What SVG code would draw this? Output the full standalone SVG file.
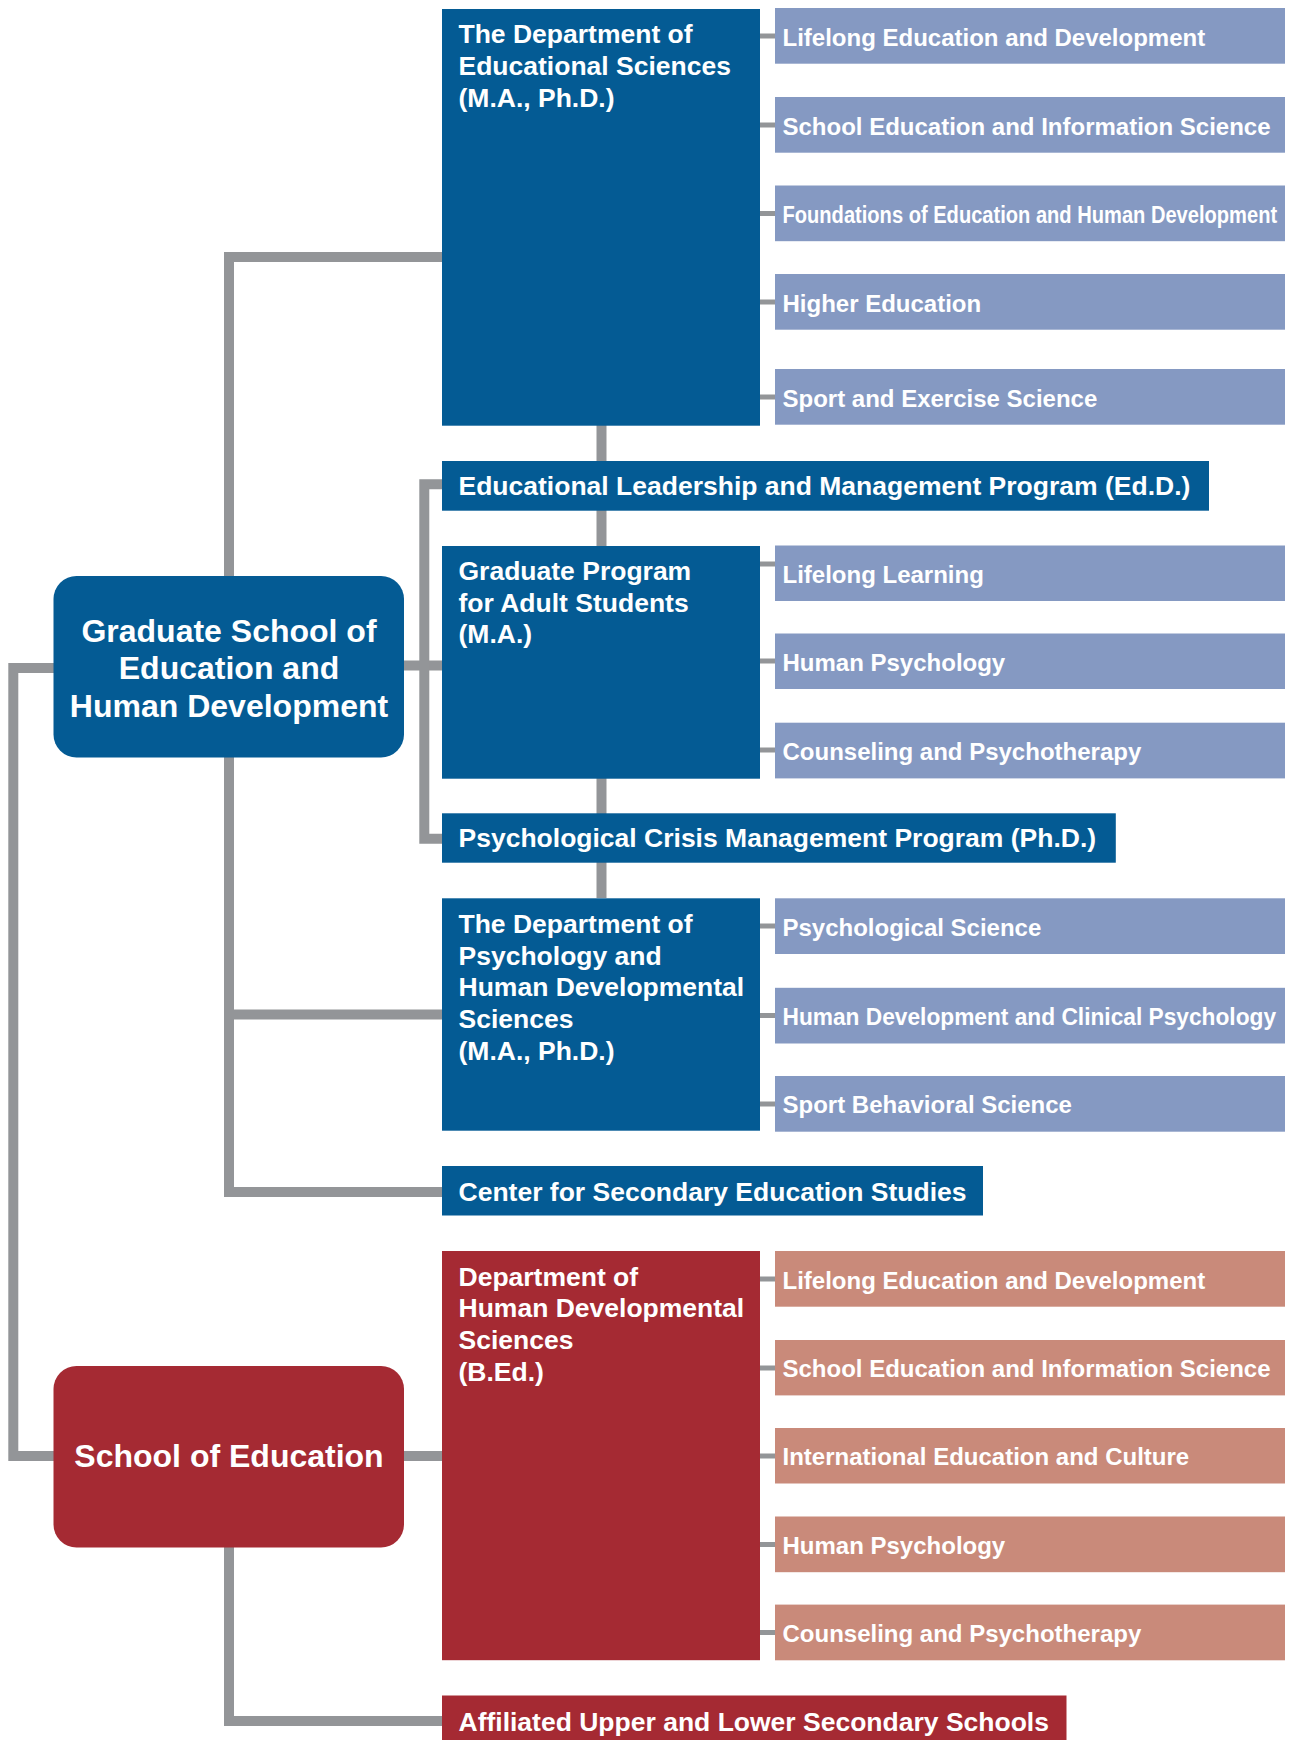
<svg xmlns="http://www.w3.org/2000/svg" width="1289" height="1740" viewBox="0 0 1289 1740">
<style>
text{font-family:"Liberation Sans",Arial,Helvetica,sans-serif;font-weight:bold;fill:#ffffff}
.blue{fill:#045B94}
.red{fill:#A52A33}
.lb{fill:#8599C2}
.sal{fill:#C98A7A}
.conn{fill:none;stroke:#939598;stroke-width:10}
.tick{fill:none;stroke:#939598;stroke-width:5}
.sub{font-size:24px}
.dept{font-size:26.5px}
.top{font-size:32px;text-anchor:middle}
</style>
<rect width="1289" height="1740" fill="#ffffff"/>
<g id="connectors">
<path class="conn" d="M54 668 H13.3 V1456 H54"/>
<path class="conn" d="M442 257 H229 V1192 H442"/>
<path class="conn" d="M229 1014.5 H442"/>
<path class="conn" d="M404 665.5 H442"/>
<path class="conn" d="M442 484.3 H424.3 V838.7 H442"/>
<path class="conn" d="M601.5 425 V898"/>
<path class="conn" d="M404 1456 H442"/>
<path class="conn" d="M229 1547 V1721 H442"/>
<path class="tick" d="M760 36 H775 M760 125 H775 M760 213.5 H775 M760 302 H775 M760 397 H775"/>
<path class="tick" d="M760 564 H775 M760 661 H775 M760 750 H775"/>
<path class="tick" d="M760 926 H775 M760 1015.5 H775 M760 1104 H775"/>
<path class="tick" d="M760 1279 H775 M760 1368 H775 M760 1456 H775 M760 1544.5 H775 M760 1632.5 H775"/>
</g>
<g id="grad-school">
<rect class="blue" x="53.5" y="576" width="350.5" height="181.5" rx="23"/>
<text class="top" x="229" y="641.7">Graduate School of</text>
<text class="top" x="229" y="679.2">Education and</text>
<text class="top" x="229" y="716.7">Human Development</text>
</g>
<g id="school-of-education">
<rect class="red" x="53.5" y="1366" width="350.5" height="181.5" rx="23"/>
<text class="top" x="229" y="1467">School of Education</text>
</g>
<g id="dept-educational-sciences">
<rect class="blue" x="442" y="9" width="318" height="416.7"/>
<text class="dept" x="458.5" y="42.7">The Department of</text>
<text class="dept" x="458.5" y="74.7">Educational Sciences</text>
<text class="dept" x="458.5" y="106.7">(M.A., Ph.D.)</text>
</g>
<g id="es-1"><rect class="lb" x="775" y="8" width="510" height="55.7"/><text class="sub" x="782.5" y="45.5">Lifelong Education and Development</text></g>
<g id="es-2"><rect class="lb" x="775" y="97" width="510" height="55.7"/><text class="sub" x="782.5" y="134.5">School Education and Information Science</text></g>
<g id="es-3"><rect class="lb" x="775" y="185.5" width="510" height="55.7"/><text class="sub" transform="translate(782.5 223) scale(0.838 1)">Foundations of Education and Human Development</text></g>
<g id="es-4"><rect class="lb" x="775" y="274" width="510" height="55.7"/><text class="sub" x="782.5" y="311.5">Higher Education</text></g>
<g id="es-5"><rect class="lb" x="775" y="369" width="510" height="55.7"/><text class="sub" x="782.5" y="406.5">Sport and Exercise Science</text></g>
<g id="ed-leadership">
<rect class="blue" x="442" y="461" width="767" height="49.7"/>
<text class="dept" x="458.5" y="494.5">Educational Leadership and Management Program (Ed.D.)</text>
</g>
<g id="adult-program">
<rect class="blue" x="442" y="546" width="318" height="232.7"/>
<text class="dept" x="458.5" y="580">Graduate Program</text>
<text class="dept" x="458.5" y="611.7">for Adult Students</text>
<text class="dept" x="458.5" y="643.4">(M.A.)</text>
</g>
<g id="ad-1"><rect class="lb" x="775" y="545.5" width="510" height="55.5"/><text class="sub" x="782.5" y="582.5">Lifelong Learning</text></g>
<g id="ad-2"><rect class="lb" x="775" y="633.5" width="510" height="55.5"/><text class="sub" x="782.5" y="670.5">Human Psychology</text></g>
<g id="ad-3"><rect class="lb" x="775" y="722.7" width="510" height="55.7"/><text class="sub" x="782.5" y="760">Counseling and Psychotherapy</text></g>
<g id="psych-crisis">
<rect class="blue" x="442" y="813.3" width="673.8" height="49.4"/>
<text class="dept" x="458.5" y="847.3">Psychological Crisis Management Program (Ph.D.)</text>
</g>
<g id="dept-psychology">
<rect class="blue" x="442" y="898.3" width="318" height="232.4"/>
<text class="dept" x="458.5" y="932.7">The Department of</text>
<text class="dept" x="458.5" y="964.5">Psychology and</text>
<text class="dept" x="458.5" y="996.3">Human Developmental</text>
<text class="dept" x="458.5" y="1028.1">Sciences</text>
<text class="dept" x="458.5" y="1059.9">(M.A., Ph.D.)</text>
</g>
<g id="ps-1"><rect class="lb" x="775" y="898.3" width="510" height="55.7"/><text class="sub" x="782.5" y="935.7">Psychological Science</text></g>
<g id="ps-2"><rect class="lb" x="775" y="987.8" width="510" height="55.7"/><text class="sub" transform="translate(782.5 1025.2) scale(0.947 1)">Human Development and Clinical Psychology</text></g>
<g id="ps-3"><rect class="lb" x="775" y="1076" width="510" height="55.7"/><text class="sub" x="782.5" y="1113.4">Sport Behavioral Science</text></g>
<g id="center-secondary">
<rect class="blue" x="442" y="1166" width="541" height="49.5"/>
<text class="dept" x="458.5" y="1200.7">Center for Secondary Education Studies</text>
</g>
<g id="dept-human-developmental">
<rect class="red" x="442" y="1251" width="318" height="409.2"/>
<text class="dept" x="458.5" y="1285.6">Department of</text>
<text class="dept" x="458.5" y="1317.4">Human Developmental</text>
<text class="dept" x="458.5" y="1349.2">Sciences</text>
<text class="dept" x="458.5" y="1381">(B.Ed.)</text>
</g>
<g id="hd-1"><rect class="sal" x="775" y="1251" width="510" height="55.7"/><text class="sub" x="782.5" y="1288.5">Lifelong Education and Development</text></g>
<g id="hd-2"><rect class="sal" x="775" y="1340" width="510" height="55.4"/><text class="sub" x="782.5" y="1377.3">School Education and Information Science</text></g>
<g id="hd-3"><rect class="sal" x="775" y="1428" width="510" height="55.5"/><text class="sub" x="782.5" y="1465.3">International Education and Culture</text></g>
<g id="hd-4"><rect class="sal" x="775" y="1516.5" width="510" height="55.7"/><text class="sub" x="782.5" y="1553.9">Human Psychology</text></g>
<g id="hd-5"><rect class="sal" x="775" y="1604.6" width="510" height="55.7"/><text class="sub" x="782.5" y="1642">Counseling and Psychotherapy</text></g>
<g id="affiliated-schools">
<rect class="red" x="442" y="1695.5" width="624.5" height="50"/>
<text class="dept" x="458.5" y="1730.5">Affiliated Upper and Lower Secondary Schools</text>
</g>
</svg>
